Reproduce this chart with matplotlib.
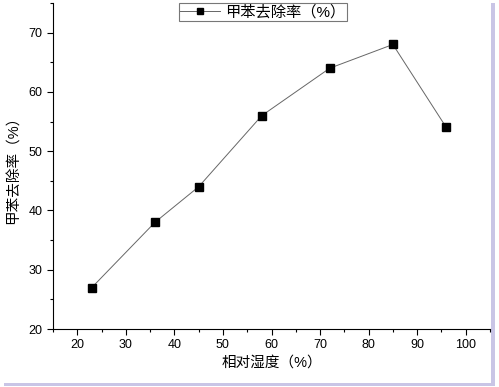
import matplotlib.pyplot as plt
from matplotlib.patches import Rectangle
from matplotlib.ticker import MultipleLocator

plt.rcParams['font.family'] = ['Liberation Sans', 'Noto Sans CJK SC', 'DejaVu Sans']

humidity = [23, 36, 45, 58, 72, 85, 96]
removal = [27, 38, 44, 56, 64, 68, 54]

fig = plt.figure(figsize=(4.99, 3.87), dpi=100)
fig.patch.set_facecolor('white')

# 阴影边框
W, H = 499.0, 387.0
fig.patches.append(Rectangle((4 / W, 1 / H), 491 / W, 383 / H, transform=fig.transFigure,
                             facecolor='#c9c5e6', edgecolor='none', zorder=-2))
fig.patches.append(Rectangle((0.0, 4 / H), 491 / W, 383 / H, transform=fig.transFigure,
                             facecolor='white', edgecolor='none', zorder=-1))

ax = fig.add_axes([53 / W, 58 / H, 437 / W, 326 / H])
ax.patch.set_alpha(0)
ax.plot(humidity, removal, color='#666666', linewidth=0.7, marker='s', markersize=5.5,
        markerfacecolor='black', markeredgecolor='black', label='甲苯去除率（%）')

ax.set_xlim(15, 105)
ax.set_ylim(20, 75)
ax.xaxis.set_major_locator(MultipleLocator(10))
ax.xaxis.set_minor_locator(MultipleLocator(5))
ax.yaxis.set_major_locator(MultipleLocator(10))
ax.yaxis.set_minor_locator(MultipleLocator(5))
ax.spines['top'].set_visible(False)
ax.spines['right'].set_visible(False)
ax.tick_params(which='major', length=4, width=0.8, labelsize=9)
ax.tick_params(which='minor', length=2, width=0.8)

ax.set_xlabel('相对湿度（%）', fontsize=10.5, labelpad=3)
ax.set_ylabel('甲苯去除率（%）', fontsize=10.5, labelpad=6)

leg = ax.legend(loc='upper center', bbox_to_anchor=(0.48, 1.0), fontsize=11, frameon=True,
                fancybox=False, handlelength=2.6, handletextpad=0.3, borderpad=0.1,
                borderaxespad=0.0, markerscale=0.75)
leg.get_frame().set_edgecolor('#555555')
leg.get_frame().set_linewidth(0.8)

fig.savefig('out.png', dpi=100)
